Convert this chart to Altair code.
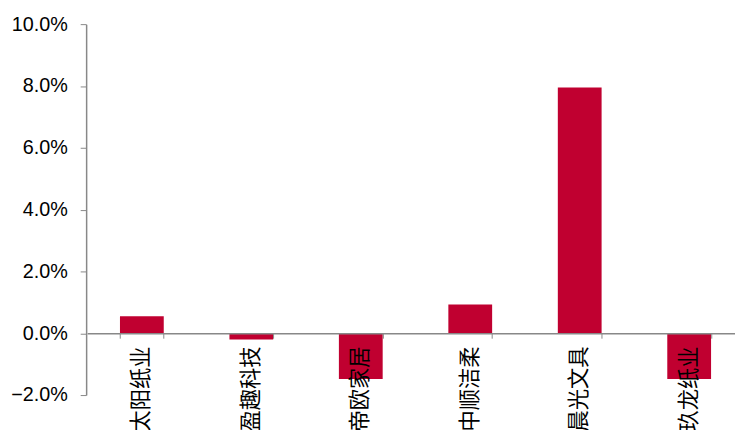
import altair as alt
import pandas as pd

categories = ["太阳纸业", "盈趣科技", "帝欧家居", "中顺洁柔", "晨光文具", "玖龙纸业"]
values = [0.0055, -0.0020, -0.0148, 0.0093, 0.0795, -0.0148]
y_ticks = [-0.02, 0.0, 0.02, 0.04, 0.06, 0.08, 0.10]

df = pd.DataFrame({"name": categories, "value": values})

chart = alt.Chart(df).mark_bar(color="#C00030").encode(
    x=alt.X(
        "name:N",
        sort=categories,
        title=None,
        scale=alt.Scale(range=[1, 665], paddingInner=0.6, paddingOuter=0.3),
        axis=alt.Axis(
            offset=-62.5,
            zindex=1,
            labelAngle=270,
            labelAlign="right",
            labelBaseline="middle",
            labelFont="Noto Sans CJK SC",
            labelFontSize=21.5,
            labelColor="#000000",
            labelPadding=8,
            tickSize=5,
            tickBand="extent",
            tickColor="#888888",
            domainColor="#888888",
            domainWidth=1.5,
            labelOverlap=False,
        ),
    ),
    y=alt.Y(
        "value:Q",
        title=None,
        scale=alt.Scale(domain=[-0.02, 0.10], nice=False),
        axis=alt.Axis(
            values=y_ticks,
            format=".1%",
            grid=False,
            zindex=1,
            labelFont="Liberation Sans",
            labelFontSize=20,
            labelColor="#000000",
            labelPadding=13,
            tickSize=6,
            tickColor="#888888",
            domainColor="#888888",
            domainWidth=1.5,
        ),
    ),
).properties(
    width=656,
    height=375,
    autosize=alt.AutoSizeParams(type="none"),
    padding={"left": 79, "top": 14, "right": 0, "bottom": 33},
).configure_view(stroke=None)

chart.save("out.html", embed_options={"renderer": "svg", "actions": False})
